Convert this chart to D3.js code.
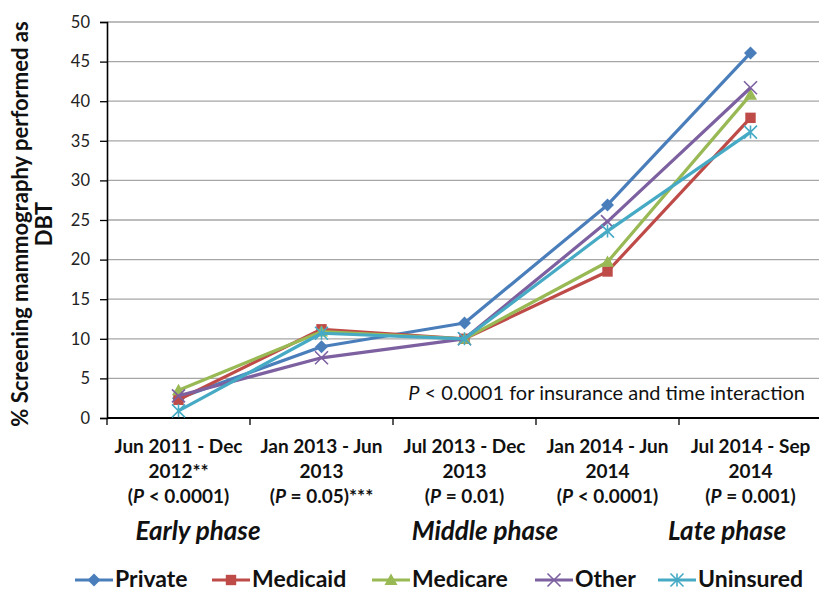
<!DOCTYPE html>
<html><head><meta charset="utf-8">
<script src="https://cdn.jsdelivr.net/npm/d3@7"></script>
<style>body{margin:0;background:#fff}svg{display:block}text{font-family:Lato,"Open Sans",sans-serif}</style>
</head><body>
<script>
const categories = ["c1","c2","c3","c4","c5"];
const catLines = [
  ["Jun 2011 - Dec","2012**","(P < 0.0001)"],
  ["Jan 2013 - Jun","2013","(P = 0.05)***"],
  ["Jul 2013 - Dec","2013","(P = 0.01)"],
  ["Jan 2014 - Jun","2014","(P < 0.0001)"],
  ["Jul 2014 - Sep","2014","(P = 0.001)"]
];
const seriesNames = ["Private","Medicaid","Medicare","Other","Uninsured"];
const privateVals   = [2.5, 9.0, 12.0, 26.9, 46.1];
const medicaidVals  = [2.3, 11.2, 10.0, 18.5, 37.9];
const medicareVals  = [3.5, 10.9, 10.0, 19.7, 40.8];
const otherVals     = [2.8, 7.6, 10.0, 24.8, 41.7];
const uninsuredVals = [0.9, 10.7, 10.0, 23.6, 36.1];
const yTicks = [0,5,10,15,20,25,30,35,40,45,50];
const phases = [["Early phase",0],["Middle phase",2],["Late phase",4]];
const colors = ["#4a7ebb","#be4b48","#98b954","#7d60a0","#46aac5"];
const markers = ["diamond","square","triangle","x","star"];
const allVals = [privateVals,medicaidVals,medicareVals,otherVals,uninsuredVals];

(function(){
const W=819,H=594;
const svg=d3.select("body").append("svg").attr("width",W).attr("height",H);
const pLeft=107,pRight=822,pTop=22,pBottom=418;
const x=d3.scaleBand().domain(categories).range([pLeft,pRight]);
const y=d3.scaleLinear().domain([0,50]).range([pBottom,pTop]);

svg.append("g").selectAll("line").data(yTicks.filter(d=>d>0)).join("line")
  .attr("x1",pLeft).attr("x2",W).attr("y1",d=>y(d)).attr("y2",d=>y(d))
  .attr("stroke","#a6a6a6").attr("stroke-width",1.3);

const ann=svg.append("g");
ann.append("rect").attr("x",393).attr("y",y(4.3)).attr("width",W-393).attr("height",y(0.3)-y(4.3)).attr("fill","#fff");
const at=ann.append("text").attr("x",805).attr("y",400).attr("text-anchor","end").attr("font-size",20).attr("fill","#111");
at.append("tspan").attr("font-style","italic").text("P");
at.append("tspan").text(" < 0.0001 for insurance and time interaction");

const ya=svg.append("g").attr("transform",`translate(${pLeft},0)`)
  .call(d3.axisLeft(y).tickValues(yTicks).tickSize(7).tickPadding(10));
ya.select(".domain").attr("stroke","#000").attr("stroke-width",1.6);
ya.selectAll(".tick line").attr("stroke","#000").attr("stroke-width",1.3);
ya.selectAll("text").attr("font-size",16.5).attr("fill","#222").attr("font-family","Lato,sans-serif");

const xa=svg.append("g").attr("transform",`translate(0,${pBottom})`);
xa.append("line").attr("x1",pLeft).attr("x2",pRight).attr("stroke","#000").attr("stroke-width",2);
const bounds=categories.map(c=>x(c)).concat([x(categories[4])+x.bandwidth()]);
xa.selectAll("line.t").data(bounds).join("line").attr("class","t")
  .attr("x1",d=>d).attr("x2",d=>d).attr("y1",0).attr("y2",7).attr("stroke","#000").attr("stroke-width",1.3);

categories.forEach((c,i)=>{
  const cx=x(c)+x.bandwidth()/2;
  catLines[i].forEach((ln,j)=>{
    const t=svg.append("text").attr("x",cx).attr("y",453+j*25).attr("text-anchor","middle")
      .attr("font-size",19).attr("font-weight","bold").attr("fill","#111");
    const m=ln.match(/^\((P)(.*)$/);
    if(m){t.append("tspan").text("(");t.append("tspan").attr("font-style","italic").text("P");t.append("tspan").text(m[2]);}
    else t.text(ln);
  });
});
const phaseX=[198,485,727];
phases.forEach(([p,i],k)=>{
  svg.append("text").attr("x",phaseX[k]).attr("y",540)
    .attr("text-anchor","middle").attr("font-size",26).attr("font-weight","bold").attr("font-style","italic").attr("fill","#111").text(p);
});

const yt=svg.append("text").attr("transform","translate(28,224) rotate(-90)").attr("text-anchor","middle")
  .attr("font-size",22).attr("font-weight","bold").attr("fill","#111");
yt.append("tspan").attr("x",0).attr("dy",0).text("% Screening mammography performed as");
yt.append("tspan").attr("x",0).attr("dy",24).text("DBT");

function drawMarker(g,type,col,cx,cy,s){
  if(type==="diamond") g.append("path").attr("d",`M${cx},${cy-s}L${cx+s},${cy}L${cx},${cy+s}L${cx-s},${cy}Z`).attr("fill",col);
  else if(type==="square") g.append("rect").attr("x",cx-s*0.8).attr("y",cy-s*0.8).attr("width",s*1.6).attr("height",s*1.6).attr("fill",col);
  else if(type==="triangle") g.append("path").attr("d",`M${cx},${cy-s}L${cx+s},${cy+s*0.75}L${cx-s},${cy+s*0.75}Z`).attr("fill",col);
  else if(type==="x") g.append("path").attr("d",`M${cx-s},${cy-s}L${cx+s},${cy+s}M${cx-s},${cy+s}L${cx+s},${cy-s}`).attr("stroke",col).attr("stroke-width",1.6);
  else { g.append("path").attr("d",`M${cx-s},${cy-s}L${cx+s},${cy+s}M${cx-s},${cy+s}L${cx+s},${cy-s}M${cx},${cy-s}L${cx},${cy+s}`).attr("stroke",col).attr("stroke-width",1.6); }
}

const line=d3.line().x((d,i)=>x(categories[i])+x.bandwidth()/2).y(d=>y(d));
allVals.forEach((vals,k)=>{
  const g=svg.append("g");
  g.append("path").attr("d",line(vals)).attr("fill","none").attr("stroke",colors[k]).attr("stroke-width",3.2).attr("stroke-linejoin","round");
  vals.forEach((v,i)=>drawMarker(g,markers[k],colors[k],x(categories[i])+x.bandwidth()/2,y(v),6.5));
});

const legX=[75,212,372,535,658];
seriesNames.forEach((n,k)=>{
  const g=svg.append("g");
  const ly=580;
  g.append("line").attr("x1",legX[k]).attr("x2",legX[k]+38).attr("y1",ly).attr("y2",ly).attr("stroke",colors[k]).attr("stroke-width",3.2);
  drawMarker(g,markers[k],colors[k],legX[k]+19,ly,6.5);
  g.append("text").attr("x",legX[k]+40).attr("y",587).attr("font-size",23).attr("font-weight","bold").attr("fill","#111").text(n);
});
})();
</script>
</body></html>
